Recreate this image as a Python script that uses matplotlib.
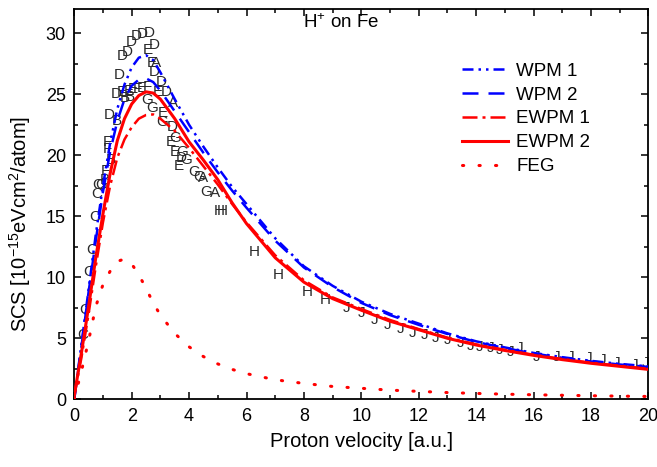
import matplotlib
matplotlib.use("Agg")
import matplotlib.pyplot as plt
from matplotlib.ticker import MultipleLocator

plt.rcParams["font.family"] = ["Liberation Sans", "DejaVu Sans"]
plt.rcParams["mathtext.fontset"] = "custom"
plt.rcParams["mathtext.rm"] = "Liberation Sans"
plt.rcParams["mathtext.it"] = "Liberation Sans:italic"
plt.rcParams["mathtext.bf"] = "Liberation Sans:bold"

# ---------------------------------------------------------------- theory curves
velocity = [0, 0.25, 0.5, 0.75, 1.0, 1.25, 1.5, 1.75, 2.0, 2.25, 2.5, 2.75, 3.0,
            3.5, 4, 4.5, 5, 5.5, 6, 7, 8, 9, 10, 11, 12, 13, 14, 15, 16, 17,
            18, 19, 20]
wpm1 = [0, 4.5, 9.0, 13.5, 17.5, 21.0, 23.8, 25.8, 27.2, 28.0, 28.2, 27.8, 26.8,
        24.6, 22.5, 20.7, 19.0, 17.4, 16.0, 13.2, 10.9, 9.3, 8.0, 7.0, 6.2,
        5.4, 4.75, 4.25, 3.8, 3.45, 3.15, 2.9, 2.7]
wpm2 = [0, 4.3, 8.8, 13.0, 17.0, 20.3, 22.8, 24.6, 25.7, 26.2, 26.3, 26.0, 25.3,
        23.6, 21.9, 20.2, 18.6, 17.1, 15.7, 13.0, 10.8, 9.2, 7.9, 6.9, 6.1,
        5.35, 4.7, 4.2, 3.75, 3.4, 3.1, 2.85, 2.65]
ewpm1 = [0.3, 3.4, 7.0, 10.9, 14.5, 17.5, 19.8, 21.3, 22.3, 23.0, 23.3, 23.35,
         23.0, 22.0, 20.6, 19.1, 17.6, 16.0, 14.5, 11.8, 9.75, 8.35, 7.4, 6.5,
         5.75, 5.05, 4.5, 4.05, 3.65, 3.3, 3.0, 2.75, 2.5]
ewpm2 = [0.3, 3.8, 7.6, 11.6, 15.2, 18.5, 21.2, 23.0, 24.2, 24.9, 25.2, 25.1,
         24.6, 23.0, 21.1, 19.6, 18.0, 16.1, 14.4, 11.6, 9.6, 8.25, 7.3, 6.4,
         5.7, 5.0, 4.45, 4.0, 3.6, 3.25, 2.95, 2.7, 2.45]
feg = [0, 2.3, 4.8, 7.6, 9.4, 10.5, 11.3, 11.5, 11.1, 10.2, 9.1, 7.9, 6.9, 5.4,
       4.3, 3.5, 2.9, 2.45, 2.1, 1.6, 1.3, 1.05, 0.9, 0.75, 0.65, 0.55, 0.48,
       0.42, 0.37, 0.33, 0.29, 0.26, 0.23]

# ------------------------------------------------- experimental data (by letter)
exp_A = [(2.85, 27.6), (3.43, 24.3), (4.47, 18.1), (4.89, 16.9)]
exp_B = [(1.5, 22.8), (1.29, 19.6), (1.08, 18.0), (1.75, 24.7), (1.95, 24.8)]
exp_C = [(0.28, 5.3), (0.38, 7.3), (0.5, 10.4), (0.6, 12.2), (0.73, 14.9),
         (0.78, 16.8), (0.82, 17.6)]
exp_D = [(1.68, 28.1), (1.85, 28.5), (1.99, 29.3), (2.16, 29.8), (2.37, 29.9),
         (2.62, 30.0), (2.8, 29.0), (2.8, 26.8), (1.57, 26.6), (3.03, 26.0),
         (3.2, 25.2), (1.45, 25.0), (1.22, 23.3), (3.42, 22.3), (3.73, 19.8)]
exp_E = [(2.55, 28.6), (2.7, 27.6), (1.65, 25.2), (1.9, 25.3), (2.05, 25.4),
         (2.35, 25.5), (2.9, 25.2), (3.1, 23.5), (3.38, 21.1), (3.5, 20.3),
         (3.63, 19.1)]
exp_F = [(1.15, 21.1), (1.15, 20.5), (1.10, 18.7), (2.2, 25.4), (2.55, 25.6)]
exp_G = [(2.55, 24.5), (2.73, 23.9), (3.06, 22.7), (3.5, 21.4), (3.77, 20.3),
         (3.9, 19.6), (4.19, 18.6), (4.35, 18.2), (4.6, 17.0), (0.95, 17.6)]
exp_H = [(5.06, 15.4), (5.15, 15.4), (6.28, 12.1), (7.09, 10.2), (8.13, 8.8),
         (8.73, 8.1)]
exp_J = [(9.49, 7.5), (10.0, 7.1), (10.47, 6.5), (10.9, 6.1), (11.35, 5.8),
         (11.8, 5.4), (12.2, 5.3), (12.6, 5.0), (13.0, 4.85), (13.45, 4.6),
         (13.8, 4.4), (14.1, 4.3), (14.5, 4.2), (14.8, 4.0), (15.2, 3.9),
         (15.5, 4.2), (16.1, 3.5), (16.8, 3.5), (17.3, 3.5), (17.9, 3.4),
         (18.4, 3.2), (18.9, 3.0), (19.5, 2.8), (19.9, 3.0)]
experiments = {"A": exp_A, "B": exp_B, "C": exp_C, "D": exp_D, "E": exp_E,
               "F": exp_F, "G": exp_G, "H": exp_H, "J": exp_J}

fig = plt.figure(figsize=(6.57, 4.67), dpi=100)
ax = fig.add_axes([0.113, 0.145, 0.874, 0.836])

for letter, pts in experiments.items():
    for x, y in pts:
        ax.text(x, y, letter, fontsize=11, color="#2a2a2a",
                ha="center", va="center", zorder=2)

ax.plot(velocity, wpm1, color="#0000ff", lw=1.8, dashes=(4.4, 2, 1, 2, 1, 2),
        label="WPM 1", zorder=3)
ax.plot(velocity, wpm2, color="#0000ff", lw=1.8, dashes=(6.4, 4),
        label="WPM 2", zorder=3)
ax.plot(velocity, ewpm1, color="#ff0000", lw=1.8, dashes=(6, 2, 1.2, 2),
        label="EWPM 1", zorder=3)
ax.plot(velocity, ewpm2, color="#ff0000", lw=2.2, label="EWPM 2", zorder=3)
ax.plot(velocity, feg, color="#ff0000", lw=2.2, dashes=(0.4, 5.0),
        dash_capstyle="round", label="FEG", zorder=3)

ax.text(9.3, 30.9, "H$^{+}$ on Fe", fontsize=13.5, ha="center", va="center")

ax.set_xlim(0, 20)
ax.set_ylim(0, 32)
ax.xaxis.set_major_locator(MultipleLocator(2))
ax.xaxis.set_minor_locator(MultipleLocator(1))
ax.yaxis.set_major_locator(MultipleLocator(5))
ax.yaxis.set_minor_locator(MultipleLocator(2.5))
ax.tick_params(which="both", direction="in", top=True, right=True,
               labelsize=13, width=1.1, pad=6)
ax.tick_params(which="major", length=5)
ax.tick_params(which="minor", length=3)
for sp in ax.spines.values():
    sp.set_linewidth(1.3)

ax.set_xlabel("Proton velocity [a.u.]", fontsize=14.5, labelpad=5)
ax.set_ylabel("SCS [10$^{-15}$eVcm$^{2}$/atom]", fontsize=14.5)
ax.yaxis.set_label_coords(-0.072, 0.45)

ax.legend(loc="upper left", bbox_to_anchor=(0.703, 0.866),
          bbox_transform=fig.transFigure, frameon=False, fontsize=13.5,
          handlelength=2.45, handletextpad=0.45, labelspacing=0.36,
          borderpad=0, borderaxespad=0)

fig.savefig("out.png", dpi=100)
